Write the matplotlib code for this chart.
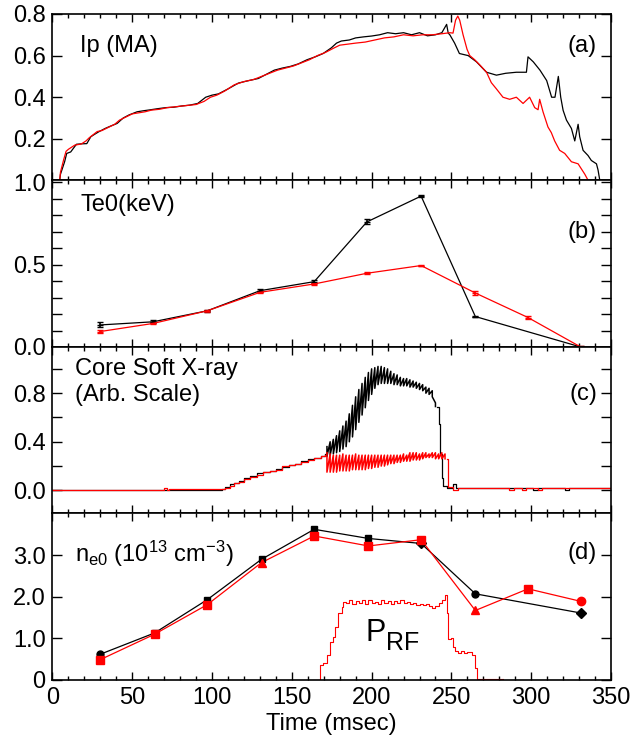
import numpy as np
import matplotlib
matplotlib.use("Agg")
import matplotlib.pyplot as plt

plt.rcParams['font.family'] = ['Liberation Sans', 'DejaVu Sans']
plt.rcParams['mathtext.fontset'] = 'custom'
plt.rcParams['mathtext.rm'] = 'Liberation Sans'
plt.rcParams['mathtext.it'] = 'Liberation Sans'
plt.rcParams['font.size'] = 17

# (a) plasma current Ip (MA)
ip_t_black = [4.5, 5, 7.6, 8.9, 11.4, 15, 18, 21.5, 24, 26, 29, 33, 36, 40.5, 44.3, 48, 53, 57, 60.8, 66,
              71, 76, 81, 86, 91, 96, 100, 104, 110, 116.5, 123, 129, 134, 139, 144, 149, 154, 159.5, 165,
              169.6, 174.7, 178, 181, 186, 190, 195, 200, 205, 210, 215, 220, 225, 230, 235, 240, 244, 247,
              248, 249, 252, 255, 260.5, 265.7, 272, 278.2, 284, 290.7, 297, 298, 301.3, 305.5, 309.7, 312.8,
              314.9, 317, 318.5, 320, 322.1, 325.2, 327.3, 329.4, 330.4, 332.5, 335.6, 337.7, 340.9, 341.9, 343]
ip_black = [0.0, 0.03, 0.09, 0.13, 0.137, 0.174, 0.176, 0.177, 0.21, 0.22, 0.234, 0.25, 0.26, 0.274, 0.30,
            0.315, 0.33, 0.335, 0.339, 0.345, 0.35, 0.352, 0.358, 0.362, 0.37, 0.40, 0.41, 0.416, 0.44, 0.468,
            0.48, 0.49, 0.51, 0.53, 0.54, 0.548, 0.56, 0.58, 0.595, 0.61, 0.637, 0.66, 0.67, 0.675, 0.685,
            0.69, 0.694, 0.70, 0.71, 0.705, 0.71, 0.70, 0.71, 0.695, 0.70, 0.71, 0.75, 0.708, 0.70, 0.66,
            0.61, 0.60, 0.57, 0.52, 0.506, 0.515, 0.52, 0.52, 0.594, 0.57, 0.53, 0.48, 0.40, 0.40, 0.50,
            0.40, 0.337, 0.29, 0.25, 0.19, 0.27, 0.21, 0.145, 0.12, 0.096, 0.08, 0.05, 0.0]
ip_t_red = [4.5, 5, 7, 8.5, 10, 14, 18, 21, 23, 25.5, 28, 31, 35, 39, 42, 46, 50, 54, 58, 62, 67, 72, 78,
            84, 90, 95, 99, 103, 108, 114, 120, 126, 131, 136, 141, 146, 151, 156, 161, 166, 171, 176, 180,
            185, 190, 196, 202, 208, 214, 220, 226, 232, 238, 244, 249, 251, 252.6, 254, 255.2, 257.3,
            259.8, 261.5, 264.6, 267.8, 272, 275, 278.2, 282.3, 286.5, 290.7, 294.9, 299, 302.2, 304.3,
            305.3, 307.4, 310.5, 312.6, 314.7, 317.8, 321, 325.2, 329.4, 331.5, 333.6, 335.7]
ip_red = [0.0, 0.04, 0.10, 0.14, 0.15, 0.17, 0.175, 0.19, 0.205, 0.22, 0.235, 0.24, 0.255, 0.27, 0.29,
          0.305, 0.32, 0.325, 0.33, 0.338, 0.342, 0.35, 0.355, 0.36, 0.365, 0.38, 0.40, 0.41, 0.43, 0.46,
          0.475, 0.485, 0.50, 0.515, 0.53, 0.54, 0.55, 0.565, 0.58, 0.60, 0.615, 0.635, 0.65, 0.655, 0.66,
          0.665, 0.675, 0.685, 0.69, 0.70, 0.695, 0.70, 0.70, 0.705, 0.71, 0.708, 0.77, 0.79, 0.77, 0.70,
          0.63, 0.60, 0.58, 0.555, 0.52, 0.47, 0.44, 0.40, 0.39, 0.40, 0.37, 0.40, 0.35, 0.34, 0.39, 0.33,
          0.257, 0.23, 0.19, 0.145, 0.13, 0.09, 0.08, 0.055, 0.03, 0.0]

# (b) central electron temperature Te0 (keV)
te_t_black = [30, 63, 97, 130, 164, 197, 231, 265, 331]
te_black = [0.134, 0.153, 0.22, 0.342, 0.397, 0.76, 0.917, 0.185, 0.0]
te_err_black = [0.015, 0.008, 0.005, 0.01, 0.008, 0.015, 0.008, 0.005, 0.005]
te_t_red = [30, 63, 97, 130, 164, 197, 231, 265, 298, 331]
te_red = [0.094, 0.143, 0.22, 0.332, 0.383, 0.448, 0.495, 0.328, 0.179, 0.0]
te_err_red = [0.01, 0.006, 0.005, 0.006, 0.005, 0.005, 0.005, 0.01, 0.008, 0.005]

# (c) core soft X-ray
sxr_t_black_pre = [0, 106, 108, 111, 114, 117, 120, 124, 128, 132, 136, 140, 144, 148, 152, 156, 160, 164, 168, 171]
sxr_black_pre = [0.0, 0.015, 0.03, 0.05, 0.06, 0.08, 0.10, 0.12, 0.14, 0.15, 0.16, 0.18, 0.19, 0.21, 0.22,
                 0.24, 0.26, 0.27, 0.28, 0.30]
saw_t_black = [172, 174, 176, 178, 180, 182, 184, 186, 188, 190, 192, 194, 196, 198, 200, 202, 204, 206,
               208, 210, 212, 214, 216, 218, 220, 222, 224, 226, 228, 230, 232, 234, 236, 238, 240]
saw_hi_black = [0.36, 0.40, 0.42, 0.45, 0.49, 0.53, 0.57, 0.63, 0.70, 0.77, 0.83, 0.88, 0.93, 0.97, 1.00,
                1.01, 1.02, 1.02, 1.01, 1.00, 0.98, 0.96, 0.95, 0.93, 0.92, 0.92, 0.91, 0.90, 0.89, 0.88,
                0.87, 0.85, 0.84, 0.82, 0.72]
saw_lo_black = [0.28, 0.29, 0.30, 0.31, 0.32, 0.34, 0.36, 0.40, 0.44, 0.50, 0.56, 0.62, 0.68, 0.74, 0.79,
                0.84, 0.87, 0.88, 0.88, 0.88, 0.88, 0.87, 0.87, 0.86, 0.86, 0.86, 0.85, 0.85, 0.84, 0.83,
                0.82, 0.80, 0.79, 0.77, 0.69]
sxr_t_black_post = [241, 242, 243, 244, 245, 247, 250, 251, 252, 253, 255, 300, 301, 303, 304, 320, 321, 323, 324, 350]
sxr_black_post = [0.69, 0.55, 0.30, 0.10, 0.04, 0.02, 0.02, 0.05, 0.05, 0.02, 0.02, 0.02, 0.0, 0.0, 0.02,
                  0.02, 0.0, 0.0, 0.02, 0.02]

sxr_t_red_pre = [0, 69, 70, 72, 73, 106, 108, 111, 114, 117, 120, 124, 128, 132, 136, 140, 144, 148, 152,
                 156, 160, 164, 168, 171]
sxr_red_pre = [0.0, 0.0, 0.02, 0.0, 0.01, 0.01, 0.02, 0.04, 0.06, 0.07, 0.09, 0.11, 0.13, 0.15, 0.16, 0.17,
               0.20, 0.21, 0.22, 0.23, 0.25, 0.27, 0.28, 0.29]
saw_t_red = [172, 174, 176, 178, 180, 182, 184, 186, 188, 190, 192, 194, 196, 198, 200, 202, 204, 206, 208,
             210, 212, 214, 216, 218, 220, 222, 224, 226, 228, 230, 232, 234, 236, 238, 240, 242, 244, 246]
saw_hi_red = [0.31, 0.30, 0.29, 0.29, 0.29, 0.30, 0.29, 0.29, 0.29, 0.30, 0.29, 0.29, 0.29, 0.29, 0.29,
              0.29, 0.29, 0.29, 0.29, 0.29, 0.29, 0.29, 0.29, 0.29, 0.30, 0.29, 0.31, 0.31, 0.31, 0.30,
              0.31, 0.31, 0.30, 0.31, 0.31, 0.30, 0.31, 0.30]
saw_lo_red = [0.15, 0.15, 0.15, 0.15, 0.16, 0.16, 0.16, 0.16, 0.17, 0.17, 0.17, 0.17, 0.17, 0.18, 0.18,
              0.19, 0.19, 0.20, 0.20, 0.21, 0.22, 0.22, 0.23, 0.23, 0.24, 0.24, 0.24, 0.25, 0.25, 0.25,
              0.26, 0.27, 0.27, 0.27, 0.26, 0.26, 0.26, 0.26]
sxr_t_red_post = [247, 248, 250, 251, 253, 254, 256, 285, 286, 288, 289, 293, 294, 296, 297, 303, 304, 306, 307, 350]
sxr_red_post = [0.26, 0.03, 0.03, 0.0, 0.0, 0.02, 0.02, 0.02, 0.0, 0.0, 0.02, 0.02, 0.0, 0.0, 0.02, 0.02,
                0.0, 0.0, 0.02, 0.02]

# (d) central density ne0 (1e13 cm^-3)
ne_t_black = [30, 64, 97, 131, 164, 198, 231, 265, 331]
ne_black = [0.62, 1.13, 1.93, 2.90, 3.62, 3.40, 3.28, 2.07, 1.61]
ne_t_red = [30, 64, 97, 131, 164, 198, 231, 265, 298, 331]
ne_red = [0.49, 1.10, 1.81, 2.82, 3.46, 3.22, 3.37, 1.67, 2.19, 1.89]

# RF power trace (arb.)
prf_t = [163, 167.6, 169.7, 171.8, 173.9, 176, 177, 179.1, 181.2, 182.2,
         184, 186, 188, 190, 192, 194, 196, 198, 200, 202, 204, 206, 208, 210, 212, 214, 216, 218, 220,
         222, 224, 226, 228, 230, 232, 234, 236, 238, 240, 242, 244,
         245.9, 247, 248, 249.5, 251.2, 252.2, 254, 256, 258, 260, 262.7, 264.9, 265.8, 282.6]
prf = [0.0, 0.36, 0.40, 0.60, 0.92, 1.04, 1.28, 1.60, 1.75, 1.88,
       1.84, 1.92, 1.82, 1.90, 1.85, 1.93, 1.83, 1.91, 1.84, 1.88, 1.82, 1.92, 1.85, 1.90, 1.83, 1.89,
       1.86, 1.91, 1.84, 1.87, 1.82, 1.86, 1.80, 1.83, 1.79, 1.82, 1.78, 1.72, 1.78, 1.85, 1.92,
       2.05, 1.60, 0.99, 1.02, 0.80, 0.69, 0.66, 0.70, 0.64, 0.68, 0.60, 0.29, 0.03, 0.03]


def zigzag(t, hi, lo):
    x = np.repeat(t, 2)
    y = np.column_stack([hi, lo]).ravel()
    return x, y


fig, axes = plt.subplots(4, 1, sharex=True, figsize=(6.34, 7.43), dpi=100)
fig.subplots_adjust(left=0.0828, right=0.9637, top=0.9812, bottom=0.0848, hspace=0)
ax1, ax2, ax3, ax4 = axes
RED = '#ff0000'

# (a)
ax1.plot(ip_t_black, ip_black, color='black', lw=0.9)
ax1.plot(ip_t_red, ip_red, color=RED, lw=0.9)
ax1.set_ylim(0, 0.8)
ax1.set_yticks([0.2, 0.4, 0.6, 0.8])
ax1.set_yticklabels(['0.2', '0.4', '0.6', '0.8'])
ax1.text(0.05, 0.81, 'Ip (MA)', transform=ax1.transAxes, ha='left', va='center')
ax1.text(0.975, 0.81, '(a)', transform=ax1.transAxes, ha='right', va='center')

# (b)
ax2.errorbar(te_t_black, te_black, yerr=te_err_black, color='black', lw=0.9, elinewidth=1.2,
             capsize=2.5, marker='_', ms=5)
ax2.errorbar(te_t_red, te_red, yerr=te_err_red, color=RED, lw=0.9, elinewidth=1.2,
             capsize=2.5, marker='_', ms=5)
ax2.set_ylim(0, 1.012)
ax2.set_yticks([0, 0.5, 1.0])
ax2.set_yticklabels(['0.0', '0.5', '1.0'])
ax2.set_yticks([0.1, 0.2, 0.3, 0.4, 0.6, 0.7, 0.8, 0.9], minor=True)
ax2.text(0.05, 0.85, 'Te0(keV)', transform=ax2.transAxes, ha='left', va='center')
ax2.text(0.975, 0.69, '(b)', transform=ax2.transAxes, ha='right', va='center')

# (c)
ax3.plot(sxr_t_black_pre, sxr_black_pre, color='black', lw=0.9, drawstyle='steps-post')
zx, zy = zigzag(saw_t_black, saw_hi_black, saw_lo_black)
ax3.plot(zx, zy, color='black', lw=1.1)
ax3.plot(sxr_t_black_post, sxr_black_post, color='black', lw=0.9, drawstyle='steps-post')
ax3.plot(sxr_t_red_pre, sxr_red_pre, color=RED, lw=0.9, drawstyle='steps-post')
zx, zy = zigzag(saw_t_red, saw_hi_red, saw_lo_red)
ax3.plot(zx, zy, color=RED, lw=1.1)
ax3.plot(sxr_t_red_post, sxr_red_post, color=RED, lw=0.9, drawstyle='steps-post')
ax3.set_ylim(-0.19, 1.18)
ax3.set_yticks([0, 0.4, 0.8])
ax3.set_yticklabels(['0.0', '0.4', '0.8'])
ax3.set_yticks([0.2, 0.6, 1.0], minor=True)
ax3.text(0.04, 0.87, 'Core Soft X-ray', transform=ax3.transAxes, ha='left', va='center')
ax3.text(0.04, 0.71, '(Arb. Scale)', transform=ax3.transAxes, ha='left', va='center')
ax3.text(0.975, 0.72, '(c)', transform=ax3.transAxes, ha='right', va='center')

# (d)
mk_black = ['o', 's', 's', 's', 's', 's', 'D', 'o', 'D']
mk_red = ['s', 's', 's', '^', 's', 's', 's', '^', 's', 'o']
ax4.plot(ne_t_black, ne_black, color='black', lw=0.9)
for t, v, m in zip(ne_t_black, ne_black, mk_black):
    ax4.errorbar(t, v, yerr=0.06, color='black', marker=m, ms=5, elinewidth=1.2)
ax4.plot(ne_t_red, ne_red, color=RED, lw=0.9)
for t, v, m in zip(ne_t_red, ne_red, mk_red):
    ax4.errorbar(t, v, yerr=0.06, color=RED, marker=m, ms=6, elinewidth=1.2)
ax4.plot(prf_t, prf, color=RED, lw=0.8, drawstyle='steps-post')
ax4.set_ylim(0, 4.0)
ax4.set_yticks([0, 1, 2, 3])
ax4.set_yticklabels(['0', '1.0', '2.0', '3.0'])
ax4.text(0.04, 0.76, r'n$_{\mathrm{e0}}$ (10$^{13}$ cm$^{-3}$)', transform=ax4.transAxes,
         ha='left', va='center')
ax4.text(0.975, 0.76, '(d)', transform=ax4.transAxes, ha='right', va='center')
ax4.text(196, 1.12, 'P', ha='left', va='center', fontsize=22)
ax4.annotate('RF', xy=(196, 1.12), xytext=(15, -7), textcoords='offset points',
             ha='left', va='center', fontsize=18)

ax4.set_xlim(0, 350)
ax4.set_xticks(np.arange(0, 351, 50))
ax4.set_xticks(np.arange(0, 351, 10), minor=True)
ax4.set_xlabel('Time (msec)', labelpad=3)

for ax in axes:
    ax.tick_params(which='both', direction='in', top=True, right=True, pad=5)
    ax.tick_params(axis='y', which='both', length=7, width=1)
    ax.tick_params(axis='x', which='major', length=6, width=1)
    ax.tick_params(axis='x', which='minor', length=3, width=1)
    for s in ax.spines.values():
        s.set_linewidth(1.2)

fig.savefig('out.png', dpi=100)
